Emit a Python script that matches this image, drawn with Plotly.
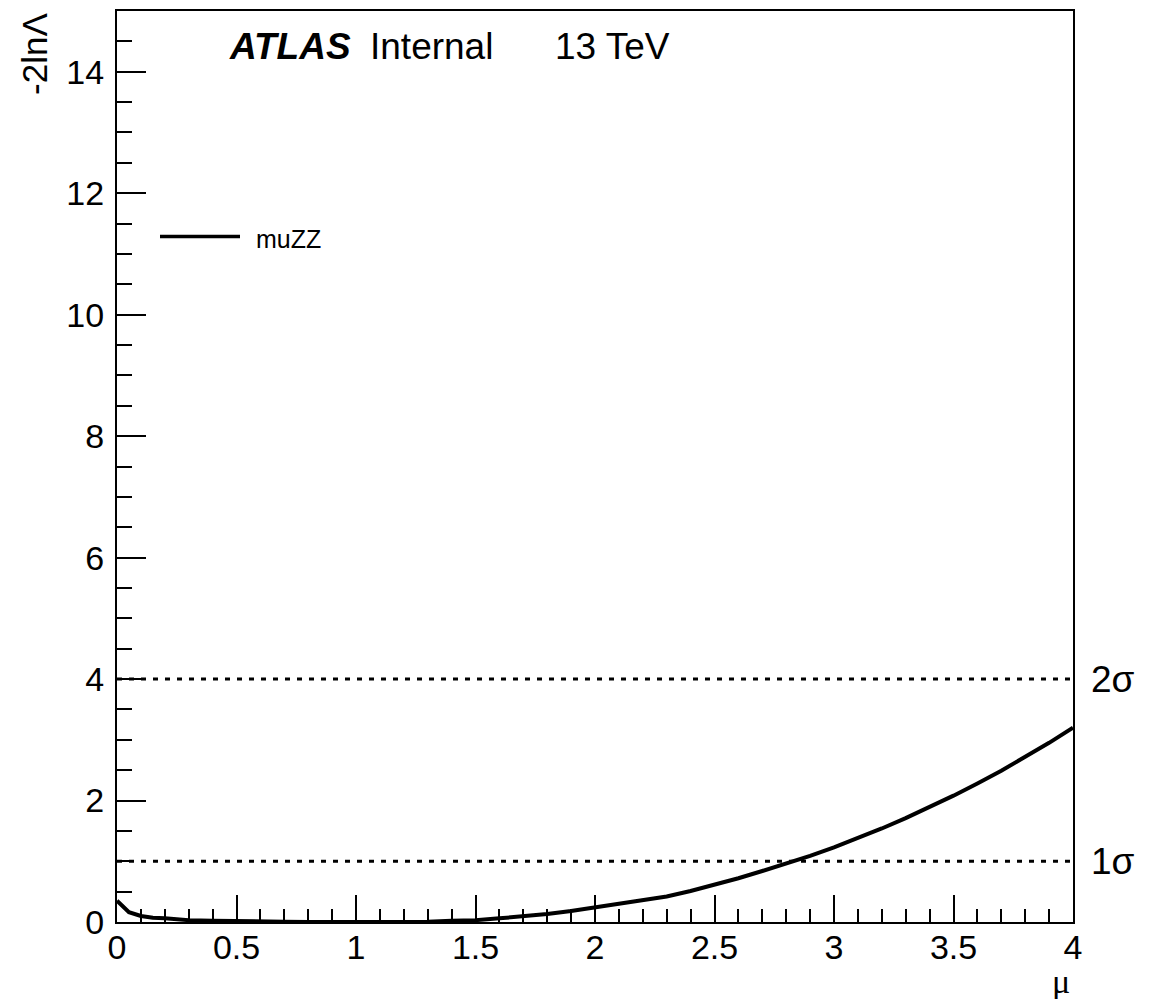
import plotly.graph_objects as go

# ---- data ----
mu_values = [0.0, 0.05, 0.1, 0.15, 0.2, 0.3, 0.4, 0.5, 0.6, 0.7, 0.8, 0.9, 1.0,
             1.1, 1.2, 1.3, 1.4, 1.5, 1.6, 1.7, 1.8, 1.9, 2.0, 2.1, 2.2, 2.3,
             2.4, 2.5, 2.6, 2.7, 2.8, 2.9, 3.0, 3.1, 3.2, 3.3, 3.4, 3.5, 3.6,
             3.7, 3.8, 3.9, 4.0]
nll_values = [0.35, 0.16, 0.10, 0.07, 0.06, 0.03, 0.02, 0.02, 0.01, 0.005, 0.002, 0.0, 0.0,
              0.0, 0.002, 0.005, 0.02, 0.03, 0.06, 0.09, 0.13, 0.18, 0.24, 0.29, 0.35, 0.42,
              0.51, 0.61, 0.72, 0.84, 0.96, 1.09, 1.23, 1.38, 1.54, 1.71, 1.89, 2.08, 2.28,
              2.49, 2.72, 2.95, 3.20]
sigma_levels = [1, 4]
sigma_labels = ["1σ", "2σ"]
series_name = "muZZ"
x_range = [0, 4]
y_range = [0, 15]

# ---- layout geometry (page pixels; body margin removed below) ----
W, H = 1160, 999
PL, PR, PT, PB = 117, 1073, 9, 922
L, T, R, B = PL, PT, W - PR, H - PB
PW, PH = PR - PL, PB - PT

def px(x):
    return (x - PL) / PW

def py(y):
    return (PB - y) / PH

FONT = "Liberation Sans, Arial, Helvetica, sans-serif"

fig = go.Figure()

for lvl in sigma_levels:
    fig.add_trace(go.Scatter(x=x_range, y=[lvl, lvl], mode="lines",
                             line=dict(color="black", width=3, dash="5px,7px"),
                             showlegend=False, hoverinfo="skip"))

fig.add_trace(go.Scatter(x=mu_values, y=nll_values, mode="lines", name=series_name,
                         line=dict(color="black", width=4), showlegend=False))

fig.update_layout(
    width=W, height=H,
    margin=dict(l=L, r=R, t=T, b=B, pad=0),
    paper_bgcolor="white", plot_bgcolor="white",
    font=dict(family=FONT, color="black"),
    xaxis=dict(range=x_range, dtick=0.5, tick0=0, ticks="inside", ticklen=27, tickwidth=2,
               tickcolor="black", showline=True, linewidth=2, linecolor="black", mirror=True,
               showgrid=False, zeroline=False, tickfont=dict(size=34, family=FONT),
               ticklabelstandoff=-6,
               minor=dict(dtick=0.1, ticks="inside", ticklen=13, tickwidth=2,
                          tickcolor="black", showgrid=False)),
    yaxis=dict(range=y_range, dtick=2, tick0=0, ticks="inside", ticklen=29, tickwidth=2,
               tickcolor="black", showline=True, linewidth=2, linecolor="black", mirror=True,
               showgrid=False, zeroline=False, tickfont=dict(size=34, family=FONT),
               ticklabelstandoff=4,
               minor=dict(dtick=0.5, ticks="inside", ticklen=15, tickwidth=2,
                          tickcolor="black", showgrid=False)),
)

annotations = [
    dict(text="<b><i>ATLAS</i></b>", x=px(227), y=py(45), xanchor="left", yanchor="middle",
         font=dict(size=37, family=FONT)),
    dict(text="Internal", x=px(368), y=py(45), xanchor="left", yanchor="middle",
         font=dict(size=37, family=FONT)),
    dict(text="13 TeV", x=px(553), y=py(45), xanchor="left", yanchor="middle",
         font=dict(size=37, family=FONT)),
    dict(text="-2lnΛ", x=px(35), y=py(52), xanchor="center", yanchor="middle", textangle=-90,
         font=dict(size=35, family=FONT)),
    dict(text="μ", x=px(1072), y=py(982), xanchor="right", yanchor="middle",
         font=dict(size=34, family="Liberation Serif, Times New Roman, serif")),
    dict(text=series_name, x=px(254), y=py(237), xanchor="left", yanchor="middle",
         font=dict(size=25, family=FONT)),
]
for lvl, lab in zip(sigma_levels, sigma_labels):
    annotations.append(dict(text=lab, x=px(1089), xref="paper", y=lvl, yref="y",
                            xanchor="left", yanchor="middle",
                            font=dict(size=37, family=FONT)))
for a in annotations:
    a.setdefault("xref", "paper")
    a.setdefault("yref", "paper")
    a["showarrow"] = False
fig.update_layout(annotations=annotations)

fig.add_shape(type="line", xref="paper", yref="paper", x0=px(160), x1=px(240),
              y0=py(235), y1=py(235), line=dict(color="black", width=3.5))

fig.write_html("out.html", config={"displayModeBar": False},
               post_script="document.body.style.margin='0';document.body.style.overflow='hidden';")
